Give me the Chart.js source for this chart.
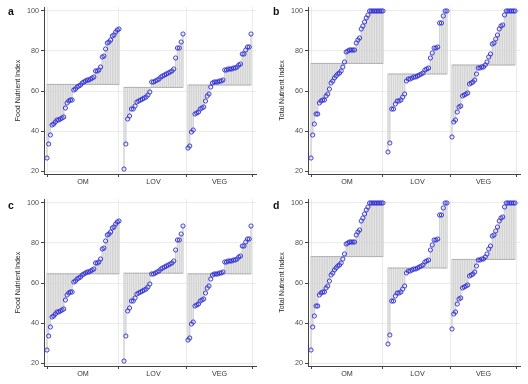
<!DOCTYPE html>
<html>
<head>
<meta charset="utf-8">
<script src="https://cdn.jsdelivr.net/npm/chart.js@4.4.0/dist/chart.umd.min.js"></script>
<style>
  html, body { margin: 0; padding: 0; background: #fff; }
  #wrap { position: relative; width: 528px; height: 384px; }
  .panel { position: absolute; width: 264px; height: 192px; }
  .tag { position: absolute; font: bold 10.5px "Liberation Sans", Arial, sans-serif; color: #111; }
</style>
</head>
<body>
<div id="wrap">
  <div class="panel" style="left:0;top:0"><canvas id="pa"></canvas></div>
  <div class="panel" style="left:264px;top:0"><canvas id="pb"></canvas></div>
  <div class="panel" style="left:0;top:192px"><canvas id="pc"></canvas></div>
  <div class="panel" style="left:264px;top:192px"><canvas id="pd"></canvas></div>
  <div class="tag" style="left:8px;top:5px">a</div>
  <div class="tag" style="left:273px;top:5px">b</div>
  <div class="tag" style="left:8px;top:199px">c</div>
  <div class="tag" style="left:273px;top:199px">d</div>
</div>
<script>
'use strict';

var groups = ['OM', 'LOV', 'VEG'];
var yTicks = [20, 40, 60, 80, 100];

// food nutrient index, sorted within each group
var omFood = [26.5, 33.5, 38, 43, 43.5, 44.5, 45.5, 45.5, 46, 46.5,
  47, 51.5, 54, 55, 55.5, 55.5, 60.5, 61, 62, 62.5,
  63, 64, 64.5, 65, 65.5, 65.5, 66, 66.5, 67, 70,
  70, 70.5, 72, 77, 77.5, 81, 84, 84.5, 85.5, 87.5,
  88, 89.5, 90.5, 91];
var lovFood = [21, 33.5, 46, 47.5, 51, 51, 52.5, 54.5, 55, 55.5,
  56, 56.5, 57, 58, 59.5, 64.5, 64.5, 65, 65.5, 66,
  67, 67.5, 68, 68.5, 69, 69.5, 70, 71, 76.5, 81.5,
  81.5, 84.5, 88.5];
var vegFood = [31.5, 32.5, 39.5, 40.5, 48.5, 49, 49.5, 51, 51.5, 52,
  55, 57.5, 58.5, 62, 64, 64.5, 64.5, 64.5, 65, 65,
  65.5, 70.5, 70.5, 71, 71, 71, 71.5, 71.5, 72, 73,
  73.5, 78.5, 78.5, 80.5, 82, 82, 88.5];

// total nutrient index
var omTotal = [26.5, 38, 43.5, 48.5, 48.5, 54, 55, 55.5, 55.5, 57.5,
  58.5, 61, 64, 65, 66.5, 67.5, 68.5, 69, 70, 72,
  74.5, 79.5, 80, 80.5, 80.5, 80.5, 80.5, 84, 85.5, 86.5,
  91, 92.5, 94.5, 96.5, 98, 100, 100, 100, 100, 100,
  100, 100, 100, 100];
var lovTotal = [29.5, 34, 51, 51, 53.5, 55, 55, 55.5, 57, 58.5,
  65, 66, 66, 66.5, 67, 67, 67.5, 68, 68.5, 69,
  70.5, 71, 71.5, 76.5, 79, 81.5, 81.5, 82, 94, 94,
  97.5, 100, 100];
var vegTotal = [37, 44.5, 45.5, 49.5, 52, 52.5, 57.5, 58, 58.5, 59,
  63.5, 64, 64.5, 65.5, 68.5, 71.5, 71.5, 72, 72, 73,
  74.5, 77, 78.5, 83.5, 84, 86, 88, 91, 92.5, 93,
  98, 100, 100, 100, 100, 100, 100];

// group reference levels (horizontal lines)
var meansA = [63.3, 61.8, 63];
var meansB = [73.8, 68.5, 73];
var meansC = [64.6, 64.9, 64.6];
var meansD = [73.2, 67.5, 71.8];

// where each group sits along the x axis (axis runs 0..212)
var spans = [[3, 75], [80, 139], [144, 207]];
var xMax = 212;

var fontFam = '"Liberation Sans", Arial, sans-serif';

function addPanel(id, yTitle, series, means) {
  var pts = [], segs = [], lines = [];
  var centers = [];
  series.forEach(function (vals, g) {
    var a = spans[g][0], b = spans[g][1];
    var step = (b - a) / (vals.length - 1);
    centers.push((a + b) / 2);
    vals.forEach(function (v, i) {
      var x = a + i * step;
      pts.push({x: x, y: v});
      segs.push({x: x, y: [means[g], v]});
    });
    lines.push({
      type: 'line',
      data: [{x: a, y: means[g]}, {x: b, y: means[g]}],
      borderColor: '#b0b0b0',
      borderWidth: 1,
      pointRadius: 0,
      order: 1
    });
  });

  var datasets = [{
    type: 'scatter',
    data: pts,
    pointRadius: 2.1,
    pointBorderWidth: 0.9,
    borderColor: '#2b2bd2',
    backgroundColor: 'rgba(0,0,0,0)',
    order: 0
  }].concat(lines).concat([{
    type: 'bar',
    data: segs,
    backgroundColor: '#d4d4d4',
    barThickness: 0.8,
    order: 2
  }]);

  new Chart(document.getElementById(id), {
    type: 'scatter',
    data: {datasets: datasets},
    options: {
      responsive: true,
      maintainAspectRatio: false,
      animation: false,
      layout: {padding: {left: 4, top: 7, right: 8, bottom: 0}},
      plugins: {legend: {display: false}, tooltip: {enabled: false}},
      scales: {
        x: {
          type: 'linear',
          min: 0,
          max: xMax,
          offset: false,
          afterBuildTicks: function (s) {
            s.ticks = centers.map(function (c) { return {value: c}; });
          },
          afterFit: function (s) { s.height = 18; },
          ticks: {
            callback: function (v, i) { return groups[i]; },
            color: '#333',
            font: {family: fontFam, size: 7.2},
            padding: 1,
            maxRotation: 0
          },
          grid: {color: '#ebebeb', tickColor: '#444', tickLength: 3},
          border: {display: true, color: '#444', width: 1}
        },
        y: {
          min: 18.5,
          max: 102,
          afterBuildTicks: function (s) {
            s.ticks = yTicks.map(function (t) { return {value: t}; });
          },
          afterFit: function (s) { s.width = 40; },
          ticks: {
            color: '#4d4d4d',
            font: {family: fontFam, size: 7.2},
            padding: 2
          },
          grid: {color: '#ebebeb', tickColor: '#444', tickLength: 3},
          border: {display: true, color: '#444', width: 1},
          title: {
            display: true,
            text: yTitle,
            color: '#222',
            font: {family: fontFam, size: 7},
            padding: {top: 10, bottom: 0}
          }
        }
      }
    }
  });
}

addPanel('pa', 'Food Nutrient Index', [omFood, lovFood, vegFood], meansA);
addPanel('pb', 'Total Nutrient Index', [omTotal, lovTotal, vegTotal], meansB);
addPanel('pc', 'Food Nutrient Index', [omFood, lovFood, vegFood], meansC);
addPanel('pd', 'Total Nutrient Index', [omTotal, lovTotal, vegTotal], meansD);
</script>
</body>
</html>
